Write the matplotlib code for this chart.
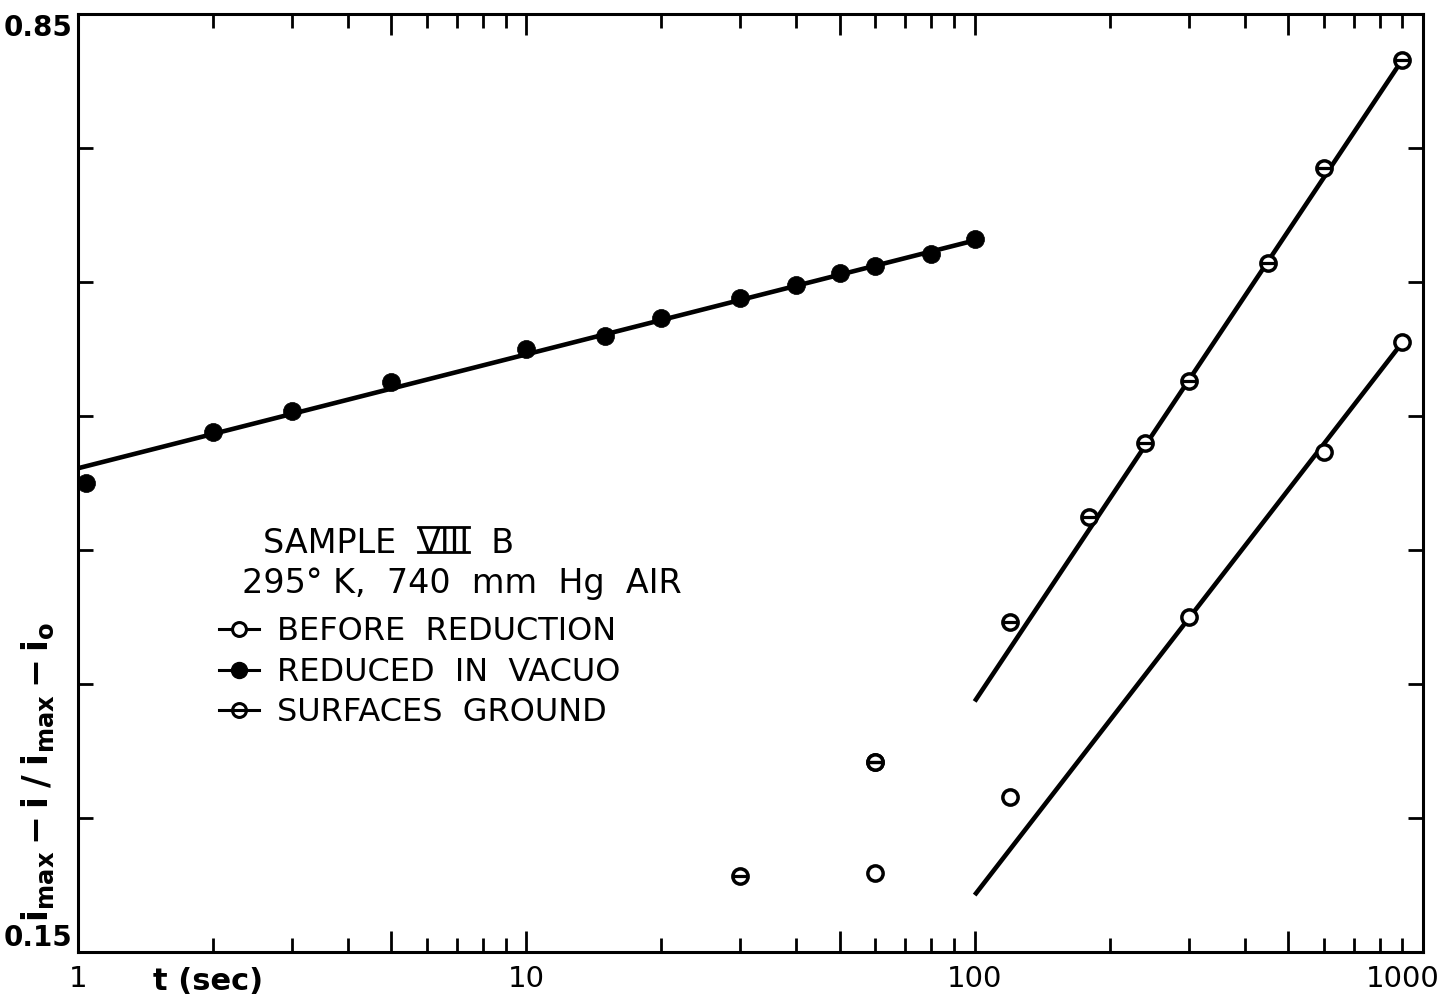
import numpy as np
import matplotlib
matplotlib.use("Agg")
import matplotlib.pyplot as plt
from matplotlib.path import Path
from matplotlib.lines import Line2D
from matplotlib.ticker import FixedLocator, FixedFormatter, NullFormatter
from matplotlib.transforms import ScaledTranslation

# ---------------- data ----------------
# REDUCED IN VACUO (filled circles)
vac_t = [1.04, 2, 3, 5, 10, 15, 20, 30, 40, 50, 60, 80, 100]
vac_y = [0.500, 0.538, 0.554, 0.575, 0.600, 0.610, 0.623, 0.638, 0.648, 0.657, 0.662, 0.671, 0.682]
vac_fit_t = [1, 100]
vac_fit_y = [0.511, 0.681]

# SURFACES GROUND (circle with bar)
gnd_t = [30, 60, 60, 120, 180, 240, 300, 450, 600, 900]
gnd_y = [0.207, 0.292, 0.292, 0.396, 0.475, 0.530, 0.576, 0.664, 0.735, 0.816]
gnd_fit_t = [100, 900]
gnd_fit_y = [0.337, 0.816]

# BEFORE REDUCTION (open circles)
bef_t = [60, 120, 300, 600, 900]
bef_y = [0.209, 0.266, 0.400, 0.523, 0.605]
bef_fit_t = [100, 900]
bef_fit_y = [0.1925, 0.605]

x_major = [1, 10, 100, 1000]
x_major_labels = ["1", "10", "100", "1000"]
y_ticks = [0.15, 0.25, 0.35, 0.45, 0.55, 0.65, 0.75, 0.85]
y_tick_labels = ["0.15", "", "", "", "", "", "", "0.85"]

# ---------------- style ----------------
plt.rcParams["font.family"] = ["DejaVu Sans"]
plt.rcParams["mathtext.fontset"] = "dejavusans"
plt.rcParams["mathtext.default"] = "bf"

fig = plt.figure(figsize=(14.48, 10.05), dpi=100)
ax = fig.add_axes([0.05387, 0.0527, 0.92887, 0.9334])

ax.set_xscale("log")
ax.set_xlim(1, 1000)
ax.set_ylim(0.15, 0.85)

# theta-like marker: circle with horizontal bar
theta = Path.make_compound_path(
    Path.unit_circle(),
    Path([(-1.0, 0.0), (1.0, 0.0)], [Path.MOVETO, Path.LINETO]),
)

LW = 3.3
# fitted lines
ax.plot(vac_fit_t, vac_fit_y, color="k", lw=LW, solid_capstyle="butt", zorder=2)
ax.plot(gnd_fit_t, gnd_fit_y, color="k", lw=LW, solid_capstyle="butt", zorder=2)
ax.plot(bef_fit_t, bef_fit_y, color="k", lw=LW, solid_capstyle="butt", zorder=2)

# points
ax.plot(vac_t, vac_y, ls="none", marker="o", ms=13, mfc="k", mec="k", mew=0.5,
        zorder=3, clip_on=False)
ax.plot(gnd_t, gnd_y, ls="none", marker="o", ms=11, mfc="white", mec="k", mew=2.5, zorder=3)
ax.plot(gnd_t, gnd_y, ls="none", marker="_", ms=11, mec="k", mew=2.3, zorder=4)
ax.plot(bef_t, bef_y, ls="none", marker="o", ms=11, mfc="white", mec="k", mew=2.5, zorder=3)

# ---------------- axes / ticks ----------------
for s in ax.spines.values():
    s.set_linewidth(2.2)

x_major_ticks = [1, 5, 10, 50, 100, 500, 1000]
x_major_tick_labels = ["1", "", "10", "", "100", "", "1000"]
ax.xaxis.set_major_locator(FixedLocator(x_major_ticks))
ax.xaxis.set_major_formatter(FixedFormatter(x_major_tick_labels))
minor = [m * d for d in (1, 10, 100) for m in (2, 3, 4, 6, 7, 8, 9)]
ax.xaxis.set_minor_locator(FixedLocator(minor))
ax.xaxis.set_minor_formatter(NullFormatter())

ax.yaxis.set_major_locator(FixedLocator(y_ticks))
ax.yaxis.set_major_formatter(FixedFormatter(y_tick_labels))
ax.yaxis.set_minor_locator(FixedLocator([]))

ax.tick_params(axis="x", which="major", direction="in", top=True, bottom=True,
               length=15, width=2.0, pad=9, labelsize=21)
ax.tick_params(axis="x", which="minor", direction="in", top=True, bottom=True,
               length=10, width=2.0)
ax.tick_params(axis="y", which="major", direction="in", left=True, right=True,
               length=11, width=2.0, pad=4, labelsize=20)

for lab in ax.get_yticklabels():
    lab.set_fontweight("bold")
ylabs = ax.get_yticklabels()
ylabs[0].set_va("bottom")
ylabs[-1].set_va("top")

xlabs = ax.get_xticklabels()
xlabs[-1].set_transform(xlabs[-1].get_transform()
                        + ScaledTranslation(-0.2, 0, fig.dpi_scale_trans))

ax.set_xlabel("t (sec)", fontsize=22, fontweight="bold")
ax.xaxis.set_label_coords(0.097, -0.016)
ax.set_ylabel(r"$i_{max}-i\;/\;i_{max}-i_o$", fontsize=25)
ax.yaxis.set_label_coords(-0.016, 0.192)

# ---------------- annotation block / legend ----------------
FS_T = 24
t1 = ax.text(0.1375, 0.436, "SAMPLE  ", transform=ax.transAxes, fontsize=FS_T,
             ha="left", va="center")
t2 = ax.annotate("VIII", xy=(1, 0), xycoords=t1, fontsize=FS_T, ha="left", va="bottom")
t3 = ax.annotate("  B", xy=(1, 0), xycoords=t2, fontsize=FS_T, ha="left", va="bottom")
ax.text(0.122, 0.393, "295° K,  740  mm  Hg  AIR", transform=ax.transAxes,
        fontsize=FS_T, ha="left", va="center")

h_bef = Line2D([], [], color="k", lw=2.2, marker="o", ms=10, mfc="white", mec="k", mew=2.2)
h_vac = Line2D([], [], color="k", lw=2.2, marker="o", ms=11.5, mfc="k", mec="k")
h_gnd = Line2D([], [], color="k", lw=2.2, marker=theta, ms=10, mfc="none", mec="k", mew=2.2)
leg = ax.legend([h_bef, h_vac, h_gnd],
                ["BEFORE  REDUCTION", "REDUCED  IN  VACUO", "SURFACES  GROUND"],
                loc="upper left", bbox_to_anchor=(0.105, 0.358), frameon=False,
                fontsize=23, handlelength=1.25, handletextpad=0.55,
                labelspacing=0.3, borderpad=0, borderaxespad=0)

# bars above and below the roman numeral
fig.canvas.draw()
bb = t2.get_window_extent()
em = FS_T * fig.dpi / 72.0
base = bb.y0 + 0.236 * em
top = base + 0.73 * em
inv = fig.transFigure.inverted()
(x0f, y0f) = inv.transform((bb.x0 + 0.02 * em, base))
(x1f, y1f) = inv.transform((bb.x1 - 0.02 * em, top))
fig.add_artist(Line2D([x0f, x1f], [y0f, y0f], color="k", lw=2.0, transform=fig.transFigure))
fig.add_artist(Line2D([x0f, x1f], [y1f, y1f], color="k", lw=2.0, transform=fig.transFigure))

fig.savefig("out.png", dpi=100, facecolor="white")
